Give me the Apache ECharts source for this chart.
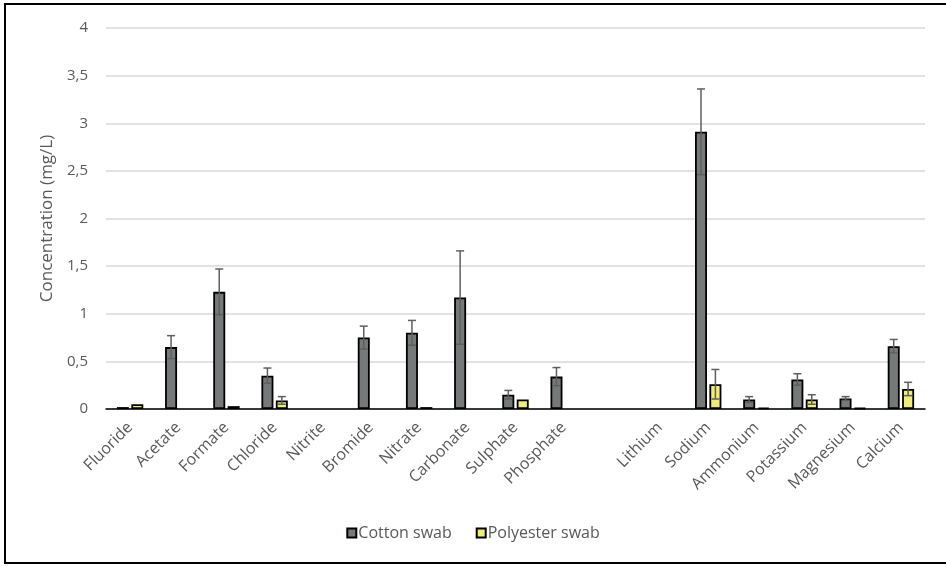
<!DOCTYPE html>
<html>
<head>
<meta charset="utf-8">
<script src="https://cdn.jsdelivr.net/npm/echarts@6/dist/echarts.min.js"></script>
<style>
  html, body { margin: 0; padding: 0; background: #fff; }
  #chart { width: 946px; height: 566px; }
</style>
</head>
<body>
<div id="chart"></div>
<script>
// Ion concentrations extracted from the two swab materials (mg/L)
const categories = ['Fluoride', 'Acetate', 'Formate', 'Chloride', 'Nitrite', 'Bromide', 'Nitrate',
  'Carbonate', 'Sulphate', 'Phosphate', '', 'Lithium', 'Sodium', 'Ammonium', 'Potassium',
  'Magnesium', 'Calcium'];
const cottonValues = [0.02, 0.65, 1.23, 0.35, null, 0.75, 0.80, 1.17, 0.15, 0.34, null, null,
  2.91, 0.10, 0.31, 0.11, 0.66];
const cottonErrors = [0, 0.12, 0.24, 0.08, 0, 0.12, 0.13, 0.49, 0.045, 0.095, 0, 0,
  0.45, 0.03, 0.06, 0.02, 0.07];
const polyesterValues = [0.05, null, 0.03, 0.09, null, null, 0.02, null, 0.10, null, null, null,
  0.26, 0.015, 0.10, 0.01, 0.21];
const polyesterErrors = [0, 0, 0, 0.04, 0, 0, 0, 0, 0, 0, 0, 0,
  0.155, 0, 0.05, 0, 0.07];
const yTicks = { min: 0, max: 4, interval: 0.5 };

const BAR_W = 12;
const BAR_GAP = 2.4;
const textColor = '#595959';
const font = '"Open Sans", "Noto Sans", sans-serif';

// Whisker drawn as a vertical stem with caps at both ends, shifted onto its bar
function errorBars(values, errors, shift) {
  return {
    type: 'custom',
    z: 5,
    silent: true,
    data: values.map((v, i) => [i, v, errors[i]]),
    renderItem: function (params, api) {
      const v = api.value(1);
      const e = api.value(2);
      if (v == null || isNaN(v) || !e) return null;
      const top = api.coord([api.value(0), v + e]);
      const bot = api.coord([api.value(0), v - e]);
      const x = top[0] + shift;
      const cap = 4;
      const style = { stroke: '#5f5f5f', lineWidth: 1.5 };
      return {
        type: 'group',
        children: [
          { type: 'line', shape: { x1: x, y1: top[1], x2: x, y2: bot[1] }, style: style },
          { type: 'line', shape: { x1: x - cap, y1: top[1], x2: x + cap, y2: top[1] }, style: style },
          { type: 'line', shape: { x1: x - cap, y1: bot[1], x2: x + cap, y2: bot[1] }, style: style }
        ]
      };
    }
  };
}

const chart = echarts.init(document.getElementById('chart'));
chart.setOption({
  animation: false,
  backgroundColor: '#fff',
  textStyle: { fontFamily: font },
  graphic: [{
    type: 'rect',
    shape: { x: 5, y: 4, width: 945, height: 559 },
    style: { fill: 'none', stroke: '#000', lineWidth: 2 },
    silent: true
  }],
  grid: { left: 106, right: 21, top: 28, bottom: 157 },
  legend: {
    data: ['Cotton swab', 'Polyester swab'],
    bottom: 20,
    left: 'center',
    icon: 'rect',
    itemWidth: 9,
    itemHeight: 9,
    itemGap: 24,
    textStyle: { color: textColor, fontSize: 16, fontFamily: font, padding: [0, 0, 0, -3] }
  },
  xAxis: {
    type: 'category',
    data: categories,
    axisLine: { lineStyle: { color: '#000', width: 1.5 } },
    axisTick: { show: false },
    axisLabel: {
      rotate: 45, color: textColor, fontSize: 16, margin: 16, interval: 0,
      hideOverlap: false
    }
  },
  yAxis: {
    type: 'value',
    min: yTicks.min,
    max: yTicks.max,
    interval: yTicks.interval,
    name: 'Concentration (mg/L)',
    nameLocation: 'middle',
    nameGap: 46,
    nameTextStyle: { color: textColor, fontSize: 17 },
    axisLine: { show: false },
    axisTick: { show: false },
    axisLabel: {
      color: textColor, fontSize: 15, margin: 18,
      formatter: v => String(v).replace('.', ',')
    },
    splitLine: { lineStyle: { color: '#d9d9d9', width: 1.5 } }
  },
  series: [
    {
      name: 'Cotton swab',
      type: 'bar',
      data: cottonValues,
      barWidth: BAR_W,
      barGap: (BAR_GAP / BAR_W * 100) + '%',
      itemStyle: { color: '#767979', borderColor: '#000', borderWidth: 1.8 }
    },
    {
      name: 'Polyester swab',
      type: 'bar',
      data: polyesterValues,
      barWidth: BAR_W,
      itemStyle: { color: '#f0ec7a', borderColor: '#000', borderWidth: 1.8 }
    },
    errorBars(cottonValues, cottonErrors, -(BAR_W + BAR_GAP) / 2),
    errorBars(polyesterValues, polyesterErrors, (BAR_W + BAR_GAP) / 2)
  ]
});
</script>
</body>
</html>
